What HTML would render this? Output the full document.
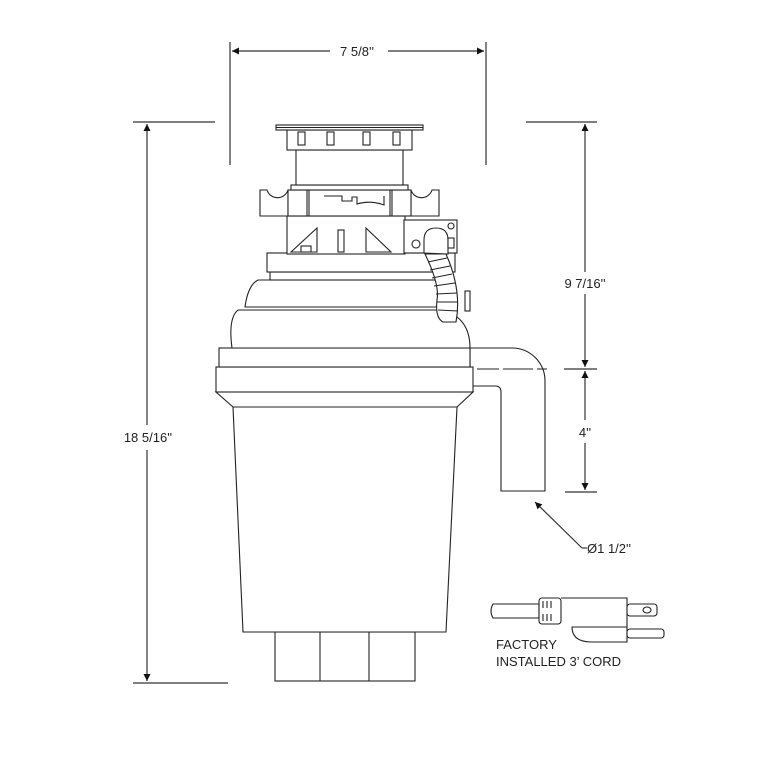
<!DOCTYPE html>
<html><head><style>
html,body{margin:0;padding:0;background:#fff;}
svg{display:block;}
text{font-family:"Liberation Sans",sans-serif;fill:#222;}
</style></head><body>
<svg width="768" height="768" viewBox="0 0 768 768" xmlns="http://www.w3.org/2000/svg">
<defs>
<marker id="a" viewBox="0 0 10 10" refX="10" refY="5" markerWidth="7" markerHeight="10" orient="auto-start-reverse" markerUnits="userSpaceOnUse">
<path d="M0,0 L10,5 L0,10 z" fill="#111"/></marker>
</defs>
<g stroke="#333" stroke-width="1.2" fill="none">
<line x1="230" y1="42" x2="230" y2="165"/>
<line x1="486" y1="42" x2="486" y2="165"/>
<line x1="232" y1="51" x2="330" y2="51" marker-start="url(#a)"/>
<line x1="388" y1="51" x2="484" y2="51" marker-end="url(#a)"/>
<line x1="133" y1="122" x2="215" y2="122"/>
<line x1="133" y1="683" x2="228" y2="683"/>
<line x1="147" y1="124" x2="147" y2="425" marker-start="url(#a)"/>
<line x1="147" y1="450" x2="147" y2="681" marker-end="url(#a)"/>
<line x1="526" y1="122" x2="597" y2="122"/>
<line x1="564" y1="369" x2="597" y2="369"/>
<line x1="565" y1="492" x2="597" y2="492"/>
<line x1="585" y1="124" x2="585" y2="272" marker-start="url(#a)"/>
<line x1="585" y1="294" x2="585" y2="367" marker-end="url(#a)"/>
<line x1="585" y1="371" x2="585" y2="420" marker-start="url(#a)"/>
<line x1="585" y1="443" x2="585" y2="490" marker-end="url(#a)"/>
<line x1="535" y1="502" x2="582" y2="548" marker-start="url(#a)"/>
<line x1="582" y1="548" x2="587" y2="548"/>
</g>
<text x="357" y="56" font-size="13" text-anchor="middle">7 5/8''</text>
<text x="148" y="442" font-size="13" text-anchor="middle">18 5/16''</text>
<text x="585" y="288" font-size="13" text-anchor="middle">9 7/16''</text>
<text x="585" y="437" font-size="13" text-anchor="middle">4''</text>
<text x="587" y="553" font-size="13">Ø1 1/2''</text>
<text x="496" y="649" font-size="13">FACTORY</text>
<text x="496" y="666" font-size="13">INSTALLED 3’ CORD</text>

<g stroke="#222" stroke-width="1.1" fill="#fff">
<path d="M470,348 H512 A33,33 0 0 1 545,381 V491 H501 V392 Q501,386 495,386 H470 Z"/>
<line x1="477" y1="369" x2="547" y2="369" stroke-dasharray="22,4,30,4"/>
<rect x="275" y="632" width="140" height="49"/>
<line x1="320" y1="632" x2="320" y2="681"/>
<line x1="369" y1="632" x2="369" y2="681"/>
<path d="M233,407 H457 L446,632 H243 Z"/>
<path d="M216,392 H473 L457,407 H233 Z"/>
<rect x="216" y="367" width="257" height="25"/>
<rect x="219" y="348" width="251" height="19"/>
<path d="M232,348 Q228,318 238,310 H443 Q470,318 470,348 Z"/>
<path d="M245,307 Q248,285 258,280 H442 Q452,290 443,307 Z"/>
<rect x="270" y="272" width="183" height="8"/>
<rect x="267" y="253" width="188" height="19"/>
<rect x="287" y="216" width="118" height="38"/>
<path d="M291,252 L317,228 V252 Z"/>
<path d="M366,228 L391,252 H366 Z"/>
<rect x="338" y="230" width="6" height="22"/>
<rect x="301" y="246" width="10" height="6"/>
<rect x="404" y="220" width="53" height="33"/>
<circle cx="416" cy="244" r="4"/>
<circle cx="451" cy="226" r="3"/>
<path d="M425,254 Q440,285 437,300 Q435,318 443,322 L456,322 Q462,290 446,254 Z"/>
<g fill="none"><path d="M428,262 L447,258 M430,270 L450,266 M432,278 L452,274 M434,286 L455,283 M436,294 L457,293 M437,302 L458,302 M438,310 L458,311"/></g>
<rect x="465" y="291" width="5" height="20"/>
<path d="M424,253 V240 Q424,228 436,228 Q448,228 448,240 V254 Z"/>
<rect x="448" y="238" width="6" height="10"/>
<path d="M260,190 H267 A11,11 0 0 0 288,190 V216 H260 Z"/>
<path d="M411,190 V216 H439 V190 H432 A11,11 0 0 1 411,190 Z"/>
<rect x="288" y="190" width="123" height="26"/>
<line x1="307" y1="190" x2="307" y2="216"/><line x1="309" y1="190" x2="309" y2="216"/>
<line x1="390" y1="190" x2="390" y2="216"/><line x1="392" y1="190" x2="392" y2="216"/>
<path d="M324,196 H342 V201 H352 V197 H357 V204 Q370,200 384,205 V196" fill="none"/>
<rect x="291" y="185" width="117" height="5"/>
<rect x="296" y="150" width="107" height="35"/>
<rect x="287" y="130" width="125" height="20"/>
<rect x="298" y="132" width="7" height="13"/><rect x="327" y="132" width="7" height="13"/>
<rect x="363" y="132" width="7" height="13"/><rect x="393" y="132" width="7" height="13"/>
<rect x="276" y="125" width="147" height="5"/>
<line x1="276" y1="127.5" x2="423" y2="127.5"/>
<path d="M493,604 H539 V618 H493 Q489,611 493,604 Z"/>
<rect x="539" y="598" width="22" height="26" rx="3"/>
<g fill="none"><path d="M543,601 V608 M547,601 V608 M551,601 V608 M543,614 V621 M547,614 V621 M551,614 V621"/></g>
<path d="M561,598 H627 V627 H572 Q572,642 592,642 H627 V598" />
<rect x="627" y="604" width="30" height="12" rx="3"/>
<ellipse cx="647" cy="610" rx="4" ry="3"/>
<rect x="627" y="629" width="37" height="9" rx="3"/>
</g>
</svg>
</body></html>
